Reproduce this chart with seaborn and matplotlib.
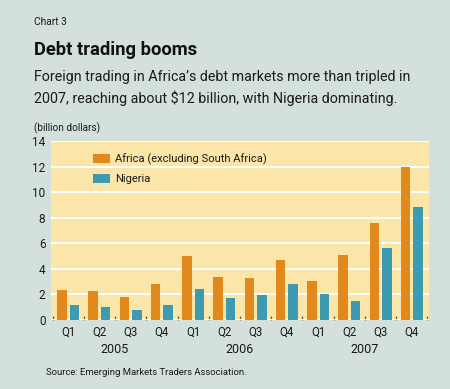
import matplotlib
matplotlib.use("Agg")
import matplotlib.pyplot as plt
import matplotlib.transforms as mtransforms
import pandas as pd
import seaborn as sns

# values (billion dollars)
quarters = ["Q1", "Q2", "Q3", "Q4"] * 3
years = ["2005", "2006", "2007"]
africa = [2.35, 2.3, 1.8, 2.85, 5.0, 3.4, 3.3, 4.7, 3.05, 5.1, 7.6, 11.95]
nigeria = [1.2, 1.0, 0.8, 1.2, 2.4, 1.75, 1.95, 2.85, 2.05, 1.45, 5.6, 8.85]
series = ["Africa (excluding South Africa)", "Nigeria"]

BG = "#d4e0de"
PANEL = "#fbe5a8"
ORANGE = "#e2891e"
TEAL = "#3d9bb1"
TXT = "#1a1a1a"

W, H = 450, 389

df = pd.DataFrame({
    "period": list(range(12)) * 2,
    "value": africa + nigeria,
    "series": [series[0]] * 12 + [series[1]] * 12,
})

sns.set_theme(style="white")
plt.rcParams["font.family"] = ["Roboto", "DejaVu Sans"]

fig = plt.figure(figsize=(W / 100, H / 100), dpi=100, facecolor=BG)
ax = fig.add_axes([51 / W, 69 / H, 378 / W, 179 / H])
ax.set_facecolor(PANEL)

sns.barplot(data=df, x="period", y="value", hue="series", order=list(range(12)),
            palette=[ORANGE, TEAL], saturation=1, width=0.8, gap=0.25,
            native_scale=True, linewidth=0, ax=ax, zorder=3)

ax.set_ylim(0, 14)
ax.set_xlim(-0.55, 11.55)
ax.set_yticks(range(0, 15, 2))
ax.yaxis.grid(True, color="white", linewidth=1.4, zorder=1)
ax.set_axisbelow(True)
for s in ax.spines.values():
    s.set_visible(False)
ax.set_xlabel("")
ax.set_ylabel("")

ax.set_xticks(range(12))
ax.set_xticklabels(quarters)
ax.set_xticks([i - 0.5 for i in range(13)], minor=True)
ax.tick_params(axis="x", which="major", length=0, pad=4, labelsize=8.3, labelcolor=TXT)
ax.tick_params(axis="x", which="minor", direction="in", length=3, width=0.9,
               color="#5a5a5a", bottom=True)
ax.tick_params(axis="y", length=0, pad=4, labelsize=8.5, labelcolor=TXT)

trans = mtransforms.blended_transform_factory(ax.transData, fig.transFigure)
for i, yr in enumerate(years):
    ax.text(i * 4 + 1.5, 1 - 353 / H, yr, transform=trans, ha="center",
            va="baseline", fontsize=9, color=TXT)

leg = ax.legend(loc="upper left", bbox_to_anchor=(0.1, 0.955), frameon=False,
                fontsize=8, handlelength=1.5, handleheight=0.85,
                handletextpad=0.5, labelspacing=0.8, borderaxespad=0)
for t in leg.get_texts():
    t.set_color(TXT)

fig.text(34 / W, 1 - 25 / H, "Chart 3", fontsize=7.4, color=TXT, va="baseline")
fig.text(34 / W, 1 - 55 / H, "Debt trading booms", fontsize=13.2,
         fontweight="bold", color="#111111", va="baseline")
fig.text(34 / W, 1 - 81 / H,
         "Foreign trading in Africa\u2019s debt markets more than tripled in",
         fontsize=10.3, color=TXT, va="baseline")
fig.text(34 / W, 1 - 103 / H,
         "2007, reaching about $12 billion, with Nigeria dominating.",
         fontsize=10.3, color=TXT, va="baseline")
fig.text(34 / W, 1 - 131 / H, "(billion dollars)", fontsize=7.2, color=TXT,
         va="baseline")
fig.text(46 / W, 1 - 375 / H, "Source: Emerging Markets Traders Association.",
         fontsize=6.8, color=TXT, va="baseline")

fig.savefig("out.png", dpi=100, facecolor=BG)
